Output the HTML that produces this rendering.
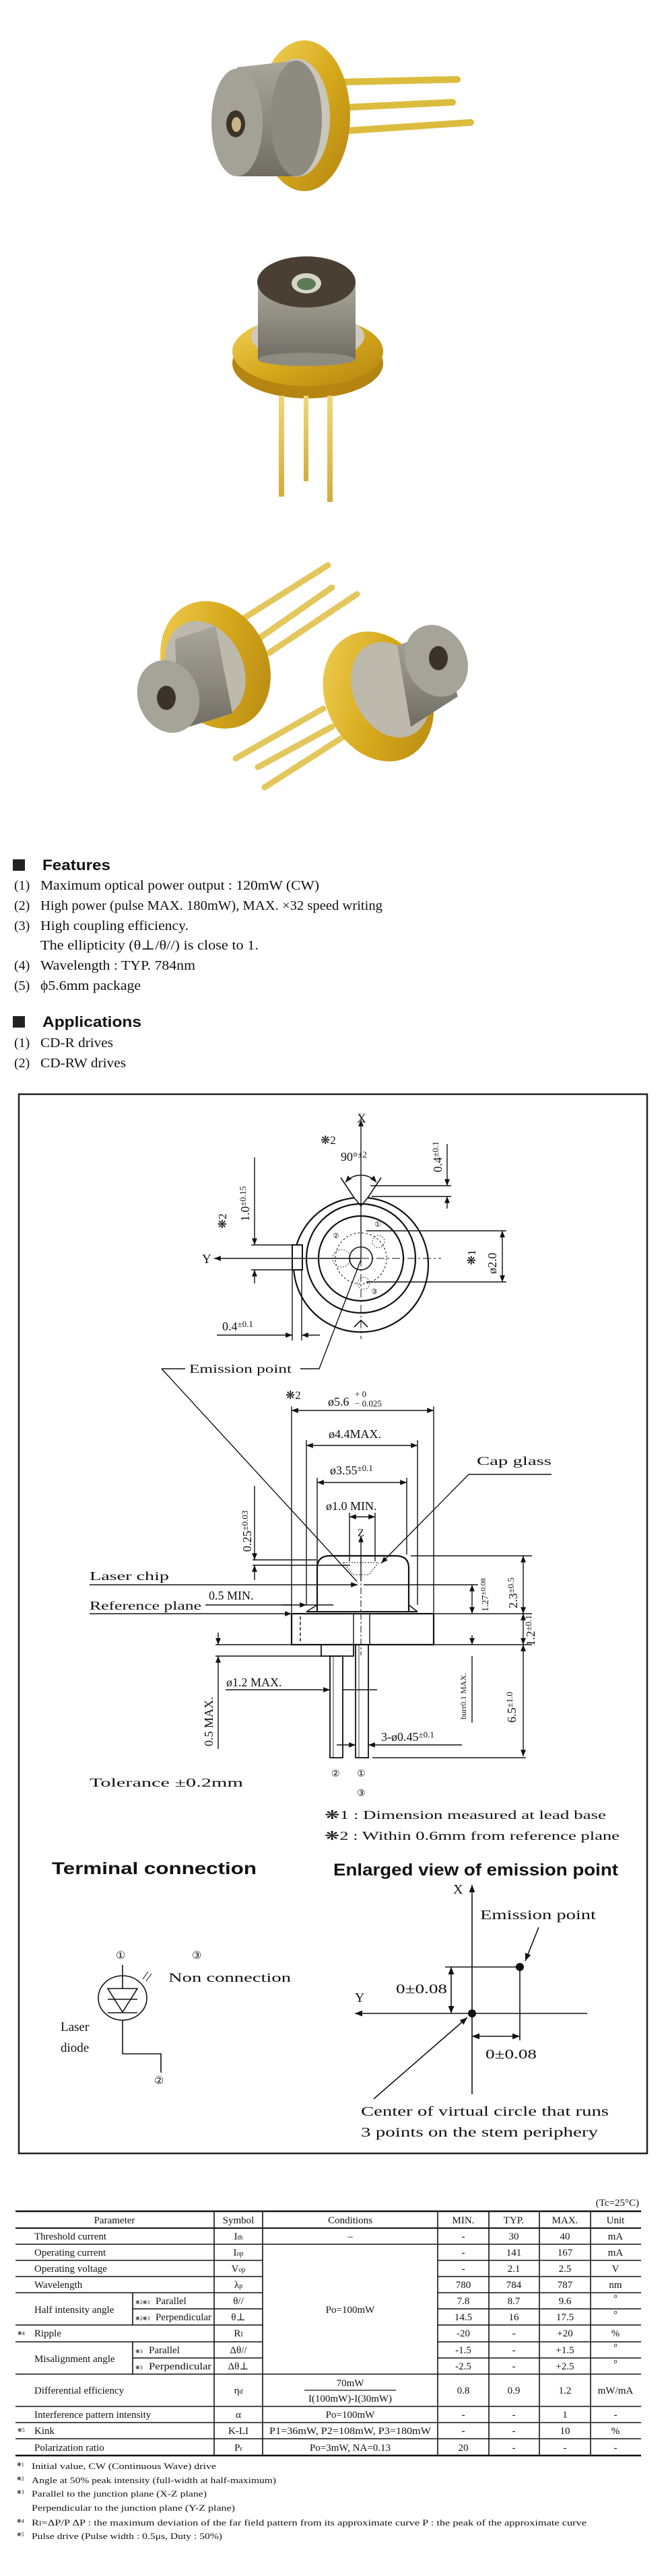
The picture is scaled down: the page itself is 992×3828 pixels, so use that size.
<!DOCTYPE html>
<html><head><meta charset="utf-8"><style>
html,body{margin:0;padding:0;background:#fff;}
svg{display:block;}
.s{font-family:"Liberation Serif","DejaVu Serif",serif;fill:#111;}
.b{font-family:"Liberation Sans","DejaVu Sans",sans-serif;font-weight:bold;fill:#111;}
</style></head><body>
<svg width="992" height="3828" viewBox="0 0 992 3828" xmlns="http://www.w3.org/2000/svg">
<defs>
<linearGradient id="gold" x1="0" y1="0" x2="1" y2="1"><stop offset="0" stop-color="#f3d35a"/><stop offset="0.5" stop-color="#d6a91c"/><stop offset="1" stop-color="#b48510"/></linearGradient>
<linearGradient id="pin" x1="0" y1="0" x2="0" y2="1"><stop offset="0" stop-color="#f0d77a"/><stop offset="1" stop-color="#d2ad3a"/></linearGradient>
<linearGradient id="gray" x1="0" y1="0" x2="0" y2="1"><stop offset="0" stop-color="#a8a59a"/><stop offset="0.5" stop-color="#8e8b80"/><stop offset="1" stop-color="#6f6c63"/></linearGradient>
<marker id="ar" viewBox="0 0 10 10" refX="10" refY="5" markerWidth="7" markerHeight="7" orient="auto-start-reverse"><path d="M0,1 L10,5 L0,9 z" fill="#111"/></marker>
</defs>
<rect width="992" height="3828" fill="#fff"/>

<!-- Photo 1 -->
<g stroke-linecap="round">
<line x1="500" y1="122" x2="679" y2="118" stroke="#dcbc3e" stroke-width="10"/>
<line x1="505" y1="160" x2="672" y2="152" stroke="#dcbc3e" stroke-width="10"/>
<line x1="505" y1="195" x2="699" y2="182" stroke="#dcbc3e" stroke-width="10"/>
</g>
<ellipse cx="452" cy="172" rx="68" ry="112" fill="url(#gold)"/>
<ellipse cx="440" cy="175" rx="50" ry="88" fill="#c9c6bb"/>
<path d="M352,100 L440,90 L440,262 L352,262 Z" fill="url(#gray)"/>
<ellipse cx="440" cy="176" rx="38" ry="86" fill="#8d8a80"/>
<ellipse cx="352" cy="182" rx="38" ry="80" fill="#a4a197"/>
<ellipse cx="350" cy="184" rx="14" ry="20" fill="#3a332a"/>
<ellipse cx="351" cy="185" rx="7" ry="11" fill="#c9b48a"/>

<!-- Photo 2 -->
<ellipse cx="457" cy="540" rx="112" ry="52" fill="#b48510"/>
<ellipse cx="457" cy="522" rx="112" ry="52" fill="url(#gold)"/>
<rect x="414" y="588" width="8" height="150" fill="url(#pin)"/>
<rect x="451" y="588" width="7" height="127" fill="url(#pin)"/>
<rect x="486" y="588" width="8" height="158" fill="url(#pin)"/>
<ellipse cx="457" cy="500" rx="84" ry="36" fill="#cfcabd"/>
<rect x="383" y="419" width="145" height="115" fill="url(#gray)"/>
<ellipse cx="455" cy="534" rx="72" ry="10" fill="#8e8b80"/>
<ellipse cx="455" cy="419" rx="73" ry="38" fill="#4a3f33"/>
<ellipse cx="455" cy="421" rx="22" ry="15" fill="#d8d4c6"/>
<ellipse cx="455" cy="422" rx="14" ry="9" fill="#5e7a55"/>

<!-- Photo 3 left can -->
<g stroke-linecap="round" stroke="#e4c75c" stroke-width="9">
<line x1="360" y1="920" x2="487" y2="840"/>
<line x1="387" y1="947" x2="493" y2="873"/>
<line x1="400" y1="970" x2="530" y2="883"/>
</g>
<ellipse cx="320" cy="988" rx="78" ry="98" transform="rotate(-25 320 988)" fill="url(#gold)"/>
<ellipse cx="305" cy="995" rx="56" ry="75" transform="rotate(-25 305 995)" fill="#bdb9ad"/>
<path d="M260,950 L320,930 L345,1060 L265,1085 Z" fill="url(#gray)"/>
<ellipse cx="250" cy="1035" rx="45" ry="55" transform="rotate(-20 250 1035)" fill="#a6a398"/>
<ellipse cx="247" cy="1037" rx="14" ry="18" fill="#3b332a"/>
<!-- right can -->
<g stroke-linecap="round" stroke="#e4c75c" stroke-width="9">
<line x1="480" y1="1053" x2="350" y2="1127"/>
<line x1="493" y1="1080" x2="383" y2="1140"/>
<line x1="513" y1="1093" x2="393" y2="1170"/>
</g>
<ellipse cx="562" cy="1035" rx="78" ry="100" transform="rotate(-25 562 1035)" fill="url(#gold)"/>
<ellipse cx="580" cy="1025" rx="55" ry="74" transform="rotate(-25 580 1025)" fill="#bdb9ad"/>
<path d="M590,960 L650,935 L680,1035 L610,1080 Z" fill="url(#gray)"/>
<ellipse cx="648" cy="982" rx="45" ry="55" transform="rotate(-25 648 982)" fill="#a6a398"/>
<ellipse cx="651" cy="978" rx="14" ry="18" fill="#3b332a"/>

<!-- Features -->
<rect x="19" y="1277" width="18" height="17" fill="#222"/>
<text class="b" x="63" y="1293" font-size="22" textLength="101" lengthAdjust="spacingAndGlyphs">Features</text>
<g class="s" font-size="20">
<text x="21" y="1322">(1)</text><text x="60" y="1322" textLength="414" lengthAdjust="spacingAndGlyphs">Maximum optical power output : 120mW (CW)</text>
<text x="21" y="1352">(2)</text><text x="60" y="1352" textLength="508" lengthAdjust="spacingAndGlyphs">High power (pulse MAX. 180mW), MAX. ×32 speed writing</text>
<text x="21" y="1382">(3)</text><text x="60" y="1382" textLength="220" lengthAdjust="spacingAndGlyphs">High coupling efficiency.</text>
<text x="60" y="1411" textLength="324" lengthAdjust="spacingAndGlyphs">The ellipticity (θ⊥/θ//) is close to 1.</text>
<text x="21" y="1441">(4)</text><text x="60" y="1441" textLength="230" lengthAdjust="spacingAndGlyphs">Wavelength : TYP. 784nm</text>
<text x="21" y="1471">(5)</text><text x="60" y="1471" textLength="149" lengthAdjust="spacingAndGlyphs">ϕ5.6mm package</text>
</g>
<rect x="19" y="1510" width="18" height="17" fill="#222"/>
<text class="b" x="63" y="1526" font-size="22" textLength="147" lengthAdjust="spacingAndGlyphs">Applications</text>
<g class="s" font-size="20">
<text x="21" y="1556">(1)</text><text x="60" y="1556" textLength="108" lengthAdjust="spacingAndGlyphs">CD-R drives</text>
<text x="21" y="1586">(2)</text><text x="60" y="1586" textLength="127" lengthAdjust="spacingAndGlyphs">CD-RW drives</text>
</g>

<!-- Diagram box -->
<rect x="28" y="1626" width="933" height="1574" fill="none" stroke="#222" stroke-width="2.5"/>

<g fill="none" stroke="#111" stroke-width="1.4">
<!-- top view -->
<path d="M526,1780 A100,100 0 1,0 546,1780" stroke-width="2.2"/>
<path d="M526,1780 L506,1750 M546,1780 L566,1750 M526,1780 L536,1792 L546,1780" stroke-width="1.6"/>
<circle cx="536" cy="1870" r="81" stroke-width="2.2"/>
<circle cx="536" cy="1870" r="63" stroke-width="2.2"/>
<circle cx="536" cy="1870" r="17" stroke-width="1.6"/>
<circle cx="536" cy="1870" r="38" stroke-dasharray="3,3" stroke-width="1"/>
<circle cx="562" cy="1845" r="9" stroke-dasharray="2,2" stroke-width="0.8"/>
<circle cx="507" cy="1870" r="13" stroke-dasharray="2,2" stroke-width="0.8"/>
<circle cx="540" cy="1907" r="9" stroke-dasharray="2,2" stroke-width="0.8"/>
<path d="M526,1972 L536,1962 L546,1972" stroke-width="1.6"/>
<rect x="434" y="1850" width="15" height="37" fill="#fff" stroke-width="2"/>
<line x1="536" y1="1870" x2="536" y2="1664" marker-end="url(#ar)"/>
<line x1="536" y1="1870" x2="318" y2="1870" marker-end="url(#ar)"/>
<line x1="536" y1="1870" x2="655" y2="1870" stroke-dasharray="12,4,3,4" stroke-width="1"/>
<line x1="536" y1="1870" x2="536" y2="1990" stroke-dasharray="12,4,3,4" stroke-width="1"/>
<path d="M513,1757 A30,30 0 0,1 559,1757" marker-start="url(#ar)" marker-end="url(#ar)"/>
<line x1="550" y1="1762" x2="670" y2="1762"/><line x1="552" y1="1778" x2="670" y2="1778"/>
<line x1="664" y1="1700" x2="664" y2="1762" marker-end="url(#ar)"/><line x1="664" y1="1796" x2="664" y2="1778" marker-end="url(#ar)"/>
<line x1="373" y1="1850" x2="436" y2="1850"/><line x1="373" y1="1887" x2="436" y2="1887"/>
<line x1="378" y1="1720" x2="378" y2="1850" marker-end="url(#ar)"/><line x1="378" y1="1907" x2="378" y2="1887" marker-end="url(#ar)"/>
<line x1="544" y1="1829" x2="752" y2="1829"/><line x1="544" y1="1905" x2="752" y2="1905"/>
<line x1="746" y1="1829" x2="746" y2="1905" marker-start="url(#ar)" marker-end="url(#ar)"/>
<line x1="434" y1="1887" x2="434" y2="1992"/><line x1="448" y1="1887" x2="448" y2="1992"/>
<line x1="322" y1="1984" x2="434" y2="1984" marker-end="url(#ar)"/><line x1="475" y1="1984" x2="448" y2="1984" marker-end="url(#ar)"/>
<!-- emission leaders -->
<polyline points="240,2034 275,2034"/><polyline points="446,2034 474,2034 536,1872"/>
<line x1="240" y1="2034" x2="530" y2="2350"/>
<!-- side view -->
<line x1="433" y1="2090" x2="433" y2="2398"/><line x1="644" y1="2090" x2="644" y2="2398"/>
<line x1="433" y1="2096" x2="644" y2="2096" marker-start="url(#ar)" marker-end="url(#ar)"/>
<line x1="455" y1="2140" x2="455" y2="2385"/><line x1="620" y1="2140" x2="620" y2="2385"/>
<line x1="455" y1="2148" x2="620" y2="2148" marker-start="url(#ar)" marker-end="url(#ar)"/>
<line x1="471" y1="2196" x2="471" y2="2340"/><line x1="604" y1="2196" x2="604" y2="2310"/>
<line x1="471" y1="2203" x2="604" y2="2203" marker-start="url(#ar)" marker-end="url(#ar)"/>
<line x1="519" y1="2248" x2="519" y2="2320"/><line x1="557" y1="2248" x2="557" y2="2320"/>
<line x1="519" y1="2254" x2="557" y2="2254" marker-start="url(#ar)" marker-end="url(#ar)"/>
<line x1="536" y1="2350" x2="536" y2="2282" marker-end="url(#ar)"/>
<path d="M471,2395 L471,2330 Q471,2312 490,2312 L588,2312 Q607,2312 607,2330 L607,2395" stroke-width="2.2"/>
<path d="M455,2395 L471,2385 M620,2395 L607,2385" stroke-width="1.6"/>
<line x1="455" y1="2395" x2="620" y2="2395" stroke-width="2"/>
<path d="M510,2322 L562,2322 L548,2340 L524,2340 Z" stroke-dasharray="2,2" stroke-width="1"/>
<rect x="433" y="2398" width="211" height="46" stroke-width="2.2"/>
<line x1="446" y1="2402" x2="446" y2="2440" stroke-dasharray="5,3"/>
<line x1="525" y1="2398" x2="525" y2="2444"/><line x1="549" y1="2398" x2="549" y2="2444"/>
<line x1="536" y1="2340" x2="536" y2="2460" stroke-dasharray="10,3,3,3" stroke-width="1"/>
<rect x="477" y="2444" width="48" height="17" stroke-width="1.8"/>
<rect x="490" y="2461" width="19" height="151" stroke-width="1.8"/><line x1="495" y1="2461" x2="495" y2="2612" stroke-width="0.8"/>
<rect x="528" y="2444" width="19" height="168" stroke-width="1.8"/><line x1="533" y1="2444" x2="533" y2="2612" stroke-width="0.8"/>
<line x1="696" y1="2191" x2="819" y2="2191"/><line x1="696" y1="2191" x2="566" y2="2323" marker-end="url(#ar)"/>
<line x1="375" y1="2318" x2="470" y2="2318"/><line x1="375" y1="2326" x2="520" y2="2326"/>
<line x1="378" y1="2208" x2="378" y2="2318" marker-end="url(#ar)"/><line x1="378" y1="2348" x2="378" y2="2326" marker-end="url(#ar)"/>
<line x1="133" y1="2355" x2="531" y2="2355" marker-end="url(#ar)"/>
<line x1="133" y1="2398" x2="433" y2="2398" marker-end="url(#ar)"/>
<line x1="305" y1="2385" x2="433" y2="2385"/><line x1="420" y1="2385" x2="455" y2="2385" marker-end="url(#ar)"/><line x1="455" y1="2385" x2="495" y2="2385"/>
<line x1="540" y1="2355" x2="710" y2="2355"/><line x1="610" y1="2312" x2="790" y2="2312"/><line x1="644" y1="2398" x2="790" y2="2398"/><line x1="644" y1="2444" x2="790" y2="2444"/>
<line x1="701" y1="2355" x2="701" y2="2398" marker-start="url(#ar)" marker-end="url(#ar)"/>
<line x1="777" y1="2312" x2="777" y2="2398" marker-start="url(#ar)" marker-end="url(#ar)"/>
<line x1="777" y1="2398" x2="777" y2="2444" marker-start="url(#ar)" marker-end="url(#ar)"/>
<line x1="777" y1="2444" x2="777" y2="2610" marker-start="url(#ar)" marker-end="url(#ar)"/>
<line x1="553" y1="2612" x2="781" y2="2612"/>
<line x1="701" y1="2430" x2="701" y2="2444" marker-end="url(#ar)"/><line x1="701" y1="2461" x2="701" y2="2560"/>
<line x1="320" y1="2444" x2="477" y2="2444"/><line x1="320" y1="2461" x2="477" y2="2461"/>
<line x1="324" y1="2426" x2="324" y2="2444" marker-end="url(#ar)"/><line x1="324" y1="2599" x2="324" y2="2461" marker-end="url(#ar)"/>
<line x1="335" y1="2511" x2="490" y2="2511" marker-end="url(#ar)"/><line x1="509" y1="2511" x2="560" y2="2511"/>
<line x1="500" y1="2593" x2="528" y2="2593" marker-end="url(#ar)"/><line x1="686" y1="2593" x2="547" y2="2593" marker-end="url(#ar)"/>
</g>
<g class="s" font-size="18">
<text x="530" y="1668" font-size="19">X</text>
<text x="476" y="1700" font-size="17">❋2</text>
<text x="506" y="1725">90°<tspan font-size="13" dy="-5">±2</tspan></text>
<text transform="translate(656,1742) rotate(-90)">0.4<tspan font-size="13" dy="-5">±0.1</tspan></text>
<text transform="translate(370,1815) rotate(-90)">1.0<tspan font-size="13" dy="-5">±0.15</tspan></text>
<text transform="translate(336,1826) rotate(-90)" font-size="17">❋2</text>
<text x="300" y="1877" font-size="19">Y</text>
<text x="556" y="1823" font-size="11">①</text><text x="494" y="1840" font-size="11">②</text><text x="551" y="1923" font-size="11">③</text>
<text transform="translate(737,1893) rotate(-90)">ø2.0</text>
<text transform="translate(706,1880) rotate(-90)" font-size="17">❋1</text>
<text x="330" y="1977">0.4<tspan font-size="13" dy="-5">±0.1</tspan></text>
<text x="281" y="2040" textLength="152" lengthAdjust="spacingAndGlyphs">Emission point</text>
<text x="424" y="2079" font-size="17">❋2</text>
<text x="487" y="2089">ø5.6</text><text x="527" y="2076" font-size="13">+ 0</text><text x="527" y="2090" font-size="13">− 0.025</text>
<text x="488" y="2137">ø4.4MAX.</text>
<text x="490" y="2191">ø3.55<tspan font-size="13" dy="-5">±0.1</tspan></text>
<text x="484" y="2244">ø1.0 MIN.</text>
<text x="531" y="2283" font-size="16">Z</text>
<text x="708" y="2177" textLength="111" lengthAdjust="spacingAndGlyphs">Cap glass</text>
<text transform="translate(373,2306) rotate(-90)">0.25<tspan font-size="13" dy="-5">±0.03</tspan></text>
<text x="133" y="2348" textLength="118" lengthAdjust="spacingAndGlyphs">Laser chip</text>
<text x="133" y="2392" textLength="166" lengthAdjust="spacingAndGlyphs">Reference plane</text>
<text x="310" y="2377">0.5 MIN.</text>
<text transform="translate(725,2395) rotate(-90)" font-size="14">1.27<tspan font-size="11" dy="-4">±0.08</tspan></text>
<text transform="translate(768,2390) rotate(-90)">2.3<tspan font-size="13" dy="-5">±0.5</tspan></text>
<text transform="translate(794,2446) rotate(-90)">1.2<tspan font-size="13" dy="-5">±0.1</tspan></text>
<text x="336" y="2506">ø1.2 MAX.</text>
<text transform="translate(316,2595) rotate(-90)">0.5 MAX.</text>
<text transform="translate(692,2555) rotate(-90)" font-size="12">burr0.1 MAX.</text>
<text transform="translate(766,2560) rotate(-90)">6.5<tspan font-size="13" dy="-5">±1.0</tspan></text>
<text x="566" y="2587">3-ø0.45<tspan font-size="13" dy="-5">±0.1</tspan></text>
<text x="492" y="2640" font-size="14">②</text><text x="530" y="2640" font-size="14">①</text><text x="530" y="2669" font-size="14">③</text>
<text x="133" y="2655" textLength="228" lengthAdjust="spacingAndGlyphs">Tolerance  ±0.2mm</text>
<text x="482" y="2703" textLength="418" lengthAdjust="spacingAndGlyphs">❋1 : Dimension measured at lead base</text>
<text x="482" y="2734" textLength="438" lengthAdjust="spacingAndGlyphs">❋2 : Within 0.6mm from reference plane</text>
</g>
<text class="b" x="77" y="2785" font-size="25" textLength="304" lengthAdjust="spacingAndGlyphs">Terminal connection</text>
<text class="b" x="495" y="2787" font-size="25" textLength="423" lengthAdjust="spacingAndGlyphs">Enlarged view of emission point</text>

<!-- terminal connection -->
<g fill="none" stroke="#111" stroke-width="1.6">
<line x1="182" y1="2920" x2="182" y2="2937"/>
<ellipse cx="182" cy="2969" rx="36" ry="33"/>
<path d="M160,2955 L204,2955 L182,2990 Z"/>
<line x1="160" y1="2971" x2="204" y2="2971"/><line x1="160" y1="2991" x2="204" y2="2991"/>
<line x1="182" y1="2937" x2="182" y2="2955"/>
<polyline points="182,3002 182,3052 239,3052 239,3080"/>
<line x1="212" y1="2941" x2="220" y2="2930" stroke-width="1"/><line x1="217" y1="2944" x2="225" y2="2933" stroke-width="1"/>
</g>
<g class="s" font-size="19">
<text x="172" y="2911" font-size="16">①</text><text x="285" y="2911" font-size="16">③</text>
<text x="250" y="2945" textLength="182" lengthAdjust="spacingAndGlyphs">Non connection</text>
<text x="90" y="3018">Laser</text><text x="90" y="3049">diode</text>
<text x="229" y="3097" font-size="16">②</text>
</g>
<!-- enlarged view -->
<g fill="none" stroke="#111" stroke-width="1.6">
<line x1="701" y1="3112" x2="701" y2="2801" marker-end="url(#ar)"/>
<line x1="872" y1="2992" x2="527" y2="2992" marker-end="url(#ar)"/>
<line x1="661" y1="2923" x2="772" y2="2923"/>
<line x1="772" y1="2923" x2="772" y2="3032"/>
<line x1="670" y1="2923" x2="670" y2="2992" marker-start="url(#ar)" marker-end="url(#ar)"/>
<line x1="701" y1="3026" x2="772" y2="3026" marker-start="url(#ar)" marker-end="url(#ar)"/>
<line x1="800" y1="2864" x2="780" y2="2914" marker-end="url(#ar)"/>
<line x1="555" y1="3119" x2="694" y2="2998" marker-end="url(#ar)"/>
</g>
<circle cx="701" cy="2992" r="6" fill="#111"/><circle cx="772" cy="2923" r="6" fill="#111"/>
<g class="s" font-size="20">
<text x="673" y="2814">X</text><text x="527" y="2975">Y</text>
<text x="713" y="2852" textLength="172" lengthAdjust="spacingAndGlyphs">Emission point</text>
<text x="588" y="2962" textLength="76" lengthAdjust="spacingAndGlyphs">0±0.08</text>
<text x="721" y="3059" textLength="76" lengthAdjust="spacingAndGlyphs">0±0.08</text>
<text x="536" y="3144" textLength="368" lengthAdjust="spacingAndGlyphs">Center of virtual circle that runs</text>
<text x="536" y="3175" textLength="352" lengthAdjust="spacingAndGlyphs">3 points on the stem periphery</text>
</g>

<!-- Table -->
<g class="s" font-size="15">
<text x="949" y="3278" text-anchor="end">(Tc=25°C)</text>
</g>
<g stroke="#111" fill="none">
<line x1="23" y1="3286" x2="952" y2="3286" stroke-width="2.5"/>
<line x1="23" y1="3311" x2="952" y2="3311" stroke-width="2"/>
<line x1="23" y1="3649" x2="952" y2="3649" stroke-width="2.5"/>
<g stroke-width="1.6">
<line x1="23" y1="3335" x2="952" y2="3335"/><line x1="23" y1="3359" x2="390" y2="3359"/><line x1="650" y1="3359" x2="952" y2="3359"/>
<line x1="23" y1="3383" x2="390" y2="3383"/><line x1="650" y1="3383" x2="952" y2="3383"/>
<line x1="23" y1="3407" x2="390" y2="3407"/><line x1="650" y1="3407" x2="952" y2="3407"/>
<line x1="197" y1="3431" x2="390" y2="3431"/><line x1="650" y1="3431" x2="952" y2="3431"/>
<line x1="23" y1="3455" x2="390" y2="3455"/><line x1="650" y1="3455" x2="952" y2="3455"/>
<line x1="23" y1="3480" x2="390" y2="3480"/><line x1="650" y1="3480" x2="952" y2="3480"/>
<line x1="197" y1="3504" x2="390" y2="3504"/><line x1="650" y1="3504" x2="952" y2="3504"/>
<line x1="23" y1="3528" x2="952" y2="3528"/><line x1="23" y1="3576" x2="952" y2="3576"/>
<line x1="23" y1="3600" x2="952" y2="3600"/><line x1="23" y1="3624" x2="952" y2="3624"/>
<line x1="318" y1="3286" x2="318" y2="3649"/><line x1="390" y1="3286" x2="390" y2="3649"/>
<line x1="650" y1="3286" x2="650" y2="3649"/><line x1="726" y1="3286" x2="726" y2="3649"/>
<line x1="801" y1="3286" x2="801" y2="3649"/><line x1="877" y1="3286" x2="877" y2="3649"/>
<line x1="197" y1="3407" x2="197" y2="3455"/><line x1="197" y1="3480" x2="197" y2="3528"/>
<line x1="452" y1="3552" x2="588" y2="3552" stroke-width="1.2"/>
</g>
</g>
<g class="s" font-size="15">
<g text-anchor="middle">
<text x="170" y="3304">Parameter</text><text x="354" y="3304">Symbol</text><text x="520" y="3304">Conditions</text><text x="688" y="3304">MIN.</text><text x="763" y="3304">TYP.</text><text x="839" y="3304">MAX.</text><text x="914" y="3304">Unit</text>
<text x="354" y="3328">I<tspan font-size="10">th</tspan></text><text x="520" y="3328">–</text><text x="688" y="3328">-</text><text x="763" y="3328">30</text><text x="839" y="3328">40</text><text x="914" y="3328">mA</text>
<text x="354" y="3352">I<tspan font-size="10">op</tspan></text><text x="688" y="3352">-</text><text x="763" y="3352">141</text><text x="839" y="3352">167</text><text x="914" y="3352">mA</text>
<text x="354" y="3376">V<tspan font-size="10">op</tspan></text><text x="688" y="3376">-</text><text x="763" y="3376">2.1</text><text x="839" y="3376">2.5</text><text x="914" y="3376">V</text>
<text x="354" y="3400">λ<tspan font-size="10">p</tspan></text><text x="688" y="3400">780</text><text x="763" y="3400">784</text><text x="839" y="3400">787</text><text x="914" y="3400">nm</text>
<text x="354" y="3424">θ//</text><text x="688" y="3424">7.8</text><text x="763" y="3424">8.7</text><text x="839" y="3424">9.6</text><text x="914" y="3420">°</text>
<text x="354" y="3448">θ⊥</text><text x="688" y="3448">14.5</text><text x="763" y="3448">16</text><text x="839" y="3448">17.5</text><text x="914" y="3444">°</text>
<text x="520" y="3437">Po=100mW</text>
<text x="354" y="3472">R<tspan font-size="10">I</tspan></text><text x="688" y="3472">-20</text><text x="763" y="3472">-</text><text x="839" y="3472">+20</text><text x="914" y="3472">%</text>
<text x="354" y="3497">Δθ//</text><text x="688" y="3497">-1.5</text><text x="763" y="3497">-</text><text x="839" y="3497">+1.5</text><text x="914" y="3493">°</text>
<text x="354" y="3521">Δθ⊥</text><text x="688" y="3521">-2.5</text><text x="763" y="3521">-</text><text x="839" y="3521">+2.5</text><text x="914" y="3517">°</text>
<text x="354" y="3557">η<tspan font-size="10">d</tspan></text><text x="520" y="3546">70mW</text><text x="520" y="3569">I(100mW)-I(30mW)</text>
<text x="688" y="3557">0.8</text><text x="763" y="3557">0.9</text><text x="839" y="3557">1.2</text><text x="914" y="3557">mW/mA</text>
<text x="354" y="3593">α</text><text x="520" y="3593">Po=100mW</text><text x="688" y="3593">-</text><text x="763" y="3593">-</text><text x="839" y="3593">1</text><text x="914" y="3593">-</text>
<text x="354" y="3617">K-LI</text><text x="520" y="3617" textLength="240" lengthAdjust="spacingAndGlyphs">P1=36mW, P2=108mW, P3=180mW</text><text x="688" y="3617">-</text><text x="763" y="3617">-</text><text x="839" y="3617">10</text><text x="914" y="3617">%</text>
<text x="354" y="3642">P<tspan font-size="10">r</tspan></text><text x="520" y="3642">Po=3mW, NA=0.13</text><text x="688" y="3642">20</text><text x="763" y="3642">-</text><text x="839" y="3642">-</text><text x="914" y="3642">-</text>
</g>
<text x="51" y="3328">Threshold current</text>
<text x="51" y="3352">Operating current</text>
<text x="51" y="3376">Operating voltage</text>
<text x="51" y="3400">Wavelength</text>
<text x="51" y="3437">Half intensity angle</text>
<text x="201" y="3424" font-size="8">❋2❋3</text><text x="231" y="3424">Parallel</text>
<text x="201" y="3448" font-size="8">❋2❋3</text><text x="231" y="3448" textLength="83" lengthAdjust="spacingAndGlyphs">Perpendicular</text>
<text x="26" y="3470" font-size="8">❋4</text><text x="51" y="3472">Ripple</text>
<text x="51" y="3510">Misalignment angle</text>
<text x="201" y="3497" font-size="8">❋3</text><text x="221" y="3497">Parallel</text>
<text x="201" y="3521" font-size="8">❋3</text><text x="221" y="3521" textLength="93" lengthAdjust="spacingAndGlyphs">Perpendicular</text>
<text x="51" y="3557">Differential efficiency</text>
<text x="51" y="3593">Interference pattern intensity</text>
<text x="26" y="3614" font-size="8">❋5</text><text x="51" y="3617">Kink</text>
<text x="51" y="3642">Polarization ratio</text>
</g>
<g class="s" font-size="13">
<text x="25" y="3665" font-size="8">❋1</text><text x="47" y="3669" textLength="274" lengthAdjust="spacingAndGlyphs">Initial value, CW (Continuous Wave) drive</text>
<text x="25" y="3686" font-size="8">❋2</text><text x="47" y="3690" textLength="363" lengthAdjust="spacingAndGlyphs">Angle at 50% peak intensity (full-width at half-maximum)</text>
<text x="25" y="3706" font-size="8">❋3</text><text x="47" y="3710" textLength="260" lengthAdjust="spacingAndGlyphs">Parallel to the junction plane (X-Z plane)</text>
<text x="47" y="3731" textLength="302" lengthAdjust="spacingAndGlyphs">Perpendicular to the junction plane (Y-Z plane)</text>
<text x="25" y="3749" font-size="8">❋4</text><text x="47" y="3753" textLength="824" lengthAdjust="spacingAndGlyphs">R<tspan font-size="9">I</tspan>=ΔP/P  ΔP : the maximum deviation of the far field pattern from its approximate curve    P : the peak of the approximate curve</text>
<text x="25" y="3769" font-size="8">❋5</text><text x="47" y="3773" textLength="283" lengthAdjust="spacingAndGlyphs">Pulse drive (Pulse width : 0.5μs, Duty : 50%)</text>
</g>
</svg>
</body></html>
